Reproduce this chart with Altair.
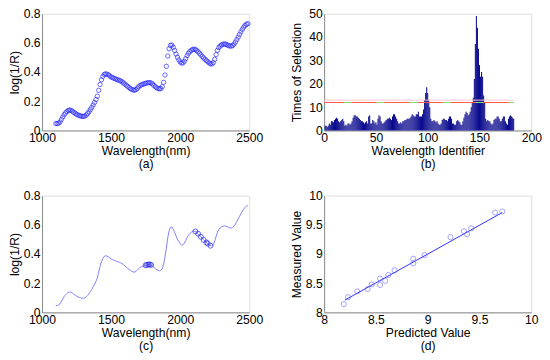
import altair as alt
import pandas as pd

FONT = "Liberation Sans"
FS = 12.5

# ---- spectrum (panels a, c) ----
wavelength = list(range(1100, 2500, 10))
absorbance = [
    0.048, 0.047, 0.050, 0.058, 0.075, 0.092, 0.108, 0.120, 0.130, 0.137,
    0.140, 0.138, 0.132, 0.124, 0.117, 0.111, 0.106, 0.102, 0.099, 0.097,
    0.096, 0.099, 0.106, 0.116, 0.128, 0.143, 0.158, 0.175, 0.192, 0.212,
    0.235, 0.275, 0.315, 0.347, 0.370, 0.384, 0.388, 0.386, 0.381, 0.374,
    0.367, 0.362, 0.358, 0.354, 0.350, 0.346, 0.343, 0.339, 0.333, 0.326,
    0.318, 0.310, 0.302, 0.294, 0.287, 0.281, 0.277, 0.276, 0.280, 0.290,
    0.300, 0.308, 0.313, 0.317, 0.320, 0.323, 0.326, 0.328, 0.328, 0.325,
    0.318, 0.309, 0.300, 0.293, 0.288, 0.285, 0.287, 0.300, 0.330, 0.380,
    0.440, 0.510, 0.560, 0.583, 0.585, 0.570, 0.548, 0.524, 0.502, 0.484,
    0.470, 0.462, 0.463, 0.474, 0.492, 0.512, 0.528, 0.540, 0.549, 0.555,
    0.557, 0.555, 0.548, 0.539, 0.529, 0.518, 0.507, 0.497, 0.488, 0.479,
    0.471, 0.463, 0.457, 0.456, 0.465, 0.488, 0.520, 0.549, 0.568, 0.579,
    0.586, 0.591, 0.593, 0.591, 0.587, 0.582, 0.579, 0.578, 0.582, 0.592,
    0.606, 0.622, 0.640, 0.658, 0.676, 0.693, 0.708, 0.720, 0.728, 0.732,
]
selected_wl = [1750, 1760, 1770, 1780, 1790, 2110, 2130, 2150, 2170, 2190, 2200, 2220]

# ---- selection counts (panel b) ----
times = [
    2, 2, 1.5, 2, 3, 2.5, 4, 4, 3.5, 4.5,
    5, 5.5, 5, 4, 3.5, 4, 4.5, 5, 4, 2,
    2.5, 2, 3, 3, 2.5, 3, 4, 5.5, 6.5, 6.5,
    6, 6, 5.5, 5, 4.5, 4, 4, 3.5, 3, 3.5,
    4, 3, 6, 6.5, 3, 3, 4.5, 4, 3, 3.5,
    2.5, 5, 6.5, 6, 4, 3, 3, 3.5, 4, 4.5,
    5, 5, 5.5, 5, 4.5, 6, 7, 7, 6, 5,
    4, 3, 3, 3.5, 3, 4, 4, 4.5, 4.5, 5,
    5, 5, 5.5, 6, 7, 6.5, 6, 6, 7, 7,
    8, 6, 6, 6, 7, 9, 13, 16, 18.5, 16,
    13, 10, 5, 4, 4, 4.5, 4, 3.5, 4, 3,
    2.5, 2.5, 3, 4.5, 5, 5, 4.5, 4.5, 4, 5,
    6, 6, 5, 3, 3, 2.5, 2.5, 4, 4.5, 4,
    3.5, 2.5, 2.5, 4, 5.5, 7, 8, 7.5, 6.5, 7,
    8, 10, 12, 14, 22, 37, 49, 44, 35, 28,
    23, 25, 23, 15, 12, 5, 4, 4.5, 4, 4,
    3, 2.5, 3, 4.5, 5, 5, 6, 6, 5, 4,
    4, 5, 6, 6, 4, 3, 2.5, 5, 6, 6.5,
    6, 5.5, 5,
]
threshold = 12
threshold_upper = 13

# ---- prediction (panel d) ----
predicted = [8.19, 8.23, 8.32, 8.42, 8.46, 8.54, 8.54, 8.59, 8.62, 8.68,
             8.86, 8.86, 8.97, 9.22, 9.35, 9.38, 9.42, 9.65, 9.72]
measured = [8.14, 8.26, 8.36, 8.40, 8.48, 8.58, 8.47, 8.54, 8.64, 8.72,
            8.92, 8.84, 8.98, 9.29, 9.39, 9.34, 9.44, 9.71, 9.73]
fit_x = [8.20, 9.72]
fit_y = [8.21, 9.71]

W, H = 213, 120

spec = pd.DataFrame({"wl": wavelength, "a": absorbance})
lookup = dict(zip(wavelength, absorbance))
sel = pd.DataFrame({"wl": selected_wl, "a": [lookup[w] for w in selected_wl]})
ids = list(range(1, len(times) + 1))
bars = pd.DataFrame({"x0": [i - 0.5 for i in ids], "x1": [i + 0.5 for i in ids], "t": times})
thr = pd.DataFrame({"x0": [0], "x1": [ids[-1]], "t": [threshold], "t2": [threshold_upper]})
pts = pd.DataFrame({"p": predicted, "m": measured})
fit = pd.DataFrame({"p": fit_x, "m": fit_y})

COMMON = dict(ticks=False, grid=False, domainColor="#8a8a8a", labelOverlap=False,
              labelFont=FONT, titleFont=FONT, labelFontSize=FS, titleFontSize=FS,
              labelColor="#000", titleColor="#000", titleFontWeight=400)


def xenc(field, domain, title, values, fmt):
    return alt.X(field, scale=alt.Scale(domain=domain),
                 axis=alt.Axis(title=title, values=values, format=fmt, labelPadding=1.5,
                               titleY=15, titleBaseline="top", titleLineHeight=13.5,
                               labelFlush=False, **COMMON))


def yenc(field, domain, title, values, fmt):
    return alt.Y(field, scale=alt.Scale(domain=domain),
                 axis=alt.Axis(title=title, values=values, format=fmt, labelPadding=2,
                               titlePadding=1, minExtent=20, maxExtent=20, **COMMON))


WL_DOM = [1000, 2500]
WL_TICKS = [1000, 1500, 2000, 2500]
A_DOM = [0, 0.8]
A_TICKS = [0, 0.2, 0.4, 0.6, 0.8]

panel_a = alt.Chart(spec).mark_point(shape="circle", filled=False, size=20,
                                     strokeWidth=0.9, color="#2a2aff", opacity=0.8).encode(
    x=xenc("wl:Q", WL_DOM, ["Wavelength(nm)", "(a)"], WL_TICKS, "d"),
    y=yenc("a:Q", A_DOM, "log(1/R)", A_TICKS, ".1~f"),
).properties(width=W, height=H)

xc = xenc("wl:Q", WL_DOM, ["Wavelength(nm)", "(c)"], WL_TICKS, "d")
yc = yenc("a:Q", A_DOM, "log(1/R)", A_TICKS, ".1~f")
panel_c = alt.layer(
    alt.Chart(spec).mark_line(color="#7d7dff", strokeWidth=1).encode(x=xc, y=yc),
    alt.Chart(sel).mark_point(shape="circle", filled=False, size=26, strokeWidth=1,
                              color="#2020e6").encode(x=xc, y=yc),
).properties(width=W, height=H)

B_TITLE_X = ["Wavelength Identifier", "(b)"]
B_TICKS_X = [0, 50, 100, 150, 200]
B_TICKS_Y = [0, 10, 20, 30, 40, 50]
xb = xenc("x0:Q", [0, 200], B_TITLE_X, B_TICKS_X, "d")
yb = yenc("t:Q", [0, 50], "Times of Selection", B_TICKS_Y, "d")
yb2 = yenc("t2:Q", [0, 50], "Times of Selection", B_TICKS_Y, "d")
panel_b = alt.layer(
    alt.Chart(bars).mark_bar(color="#0b0b8f").encode(
        x=xb, x2="x1:Q", y=yb, y2=alt.datum(0)),
    alt.Chart(thr).mark_rule(color="#f9c4c4", strokeWidth=1).encode(
        x=xb, x2="x1:Q", y=yb2),
    alt.Chart(thr).mark_rule(color="#ff5a5a", strokeWidth=1.1).encode(
        x=xb, x2="x1:Q", y=yb),
    alt.Chart(thr).mark_rule(color="#7fdc7f", strokeWidth=1.1, strokeDash=[8, 26],
                             strokeDashOffset=-20).encode(
        x=xb, x2="x1:Q", y=yb),
).properties(width=W, height=H)

xd = xenc("p:Q", [8, 10], ["Predicted Value", "(d)"], [8, 8.5, 9, 9.5, 10], ".1~f")
yd = yenc("m:Q", [8, 10], "Measured Value", [8, 8.5, 9, 9.5, 10], ".1~f")
panel_d = alt.layer(
    alt.Chart(fit).mark_line(color="#2c2cff", strokeWidth=1).encode(x=xd, y=yd),
    alt.Chart(pts).mark_point(shape="circle", filled=False, size=28, strokeWidth=0.9,
                              color="#6a6aff").encode(x=xd, y=yd),
).properties(width=W, height=H)

chart = alt.vconcat(
    alt.hconcat(panel_a, panel_b, spacing=27),
    alt.hconcat(panel_c, panel_d, spacing=27),
    spacing=18,
).properties(padding={"left": 0, "top": -6, "right": 0, "bottom": 0}).configure_view(
    stroke=None).configure(background="white")

chart.save("out.html", embed_options={"renderer": "svg", "actions": False})
